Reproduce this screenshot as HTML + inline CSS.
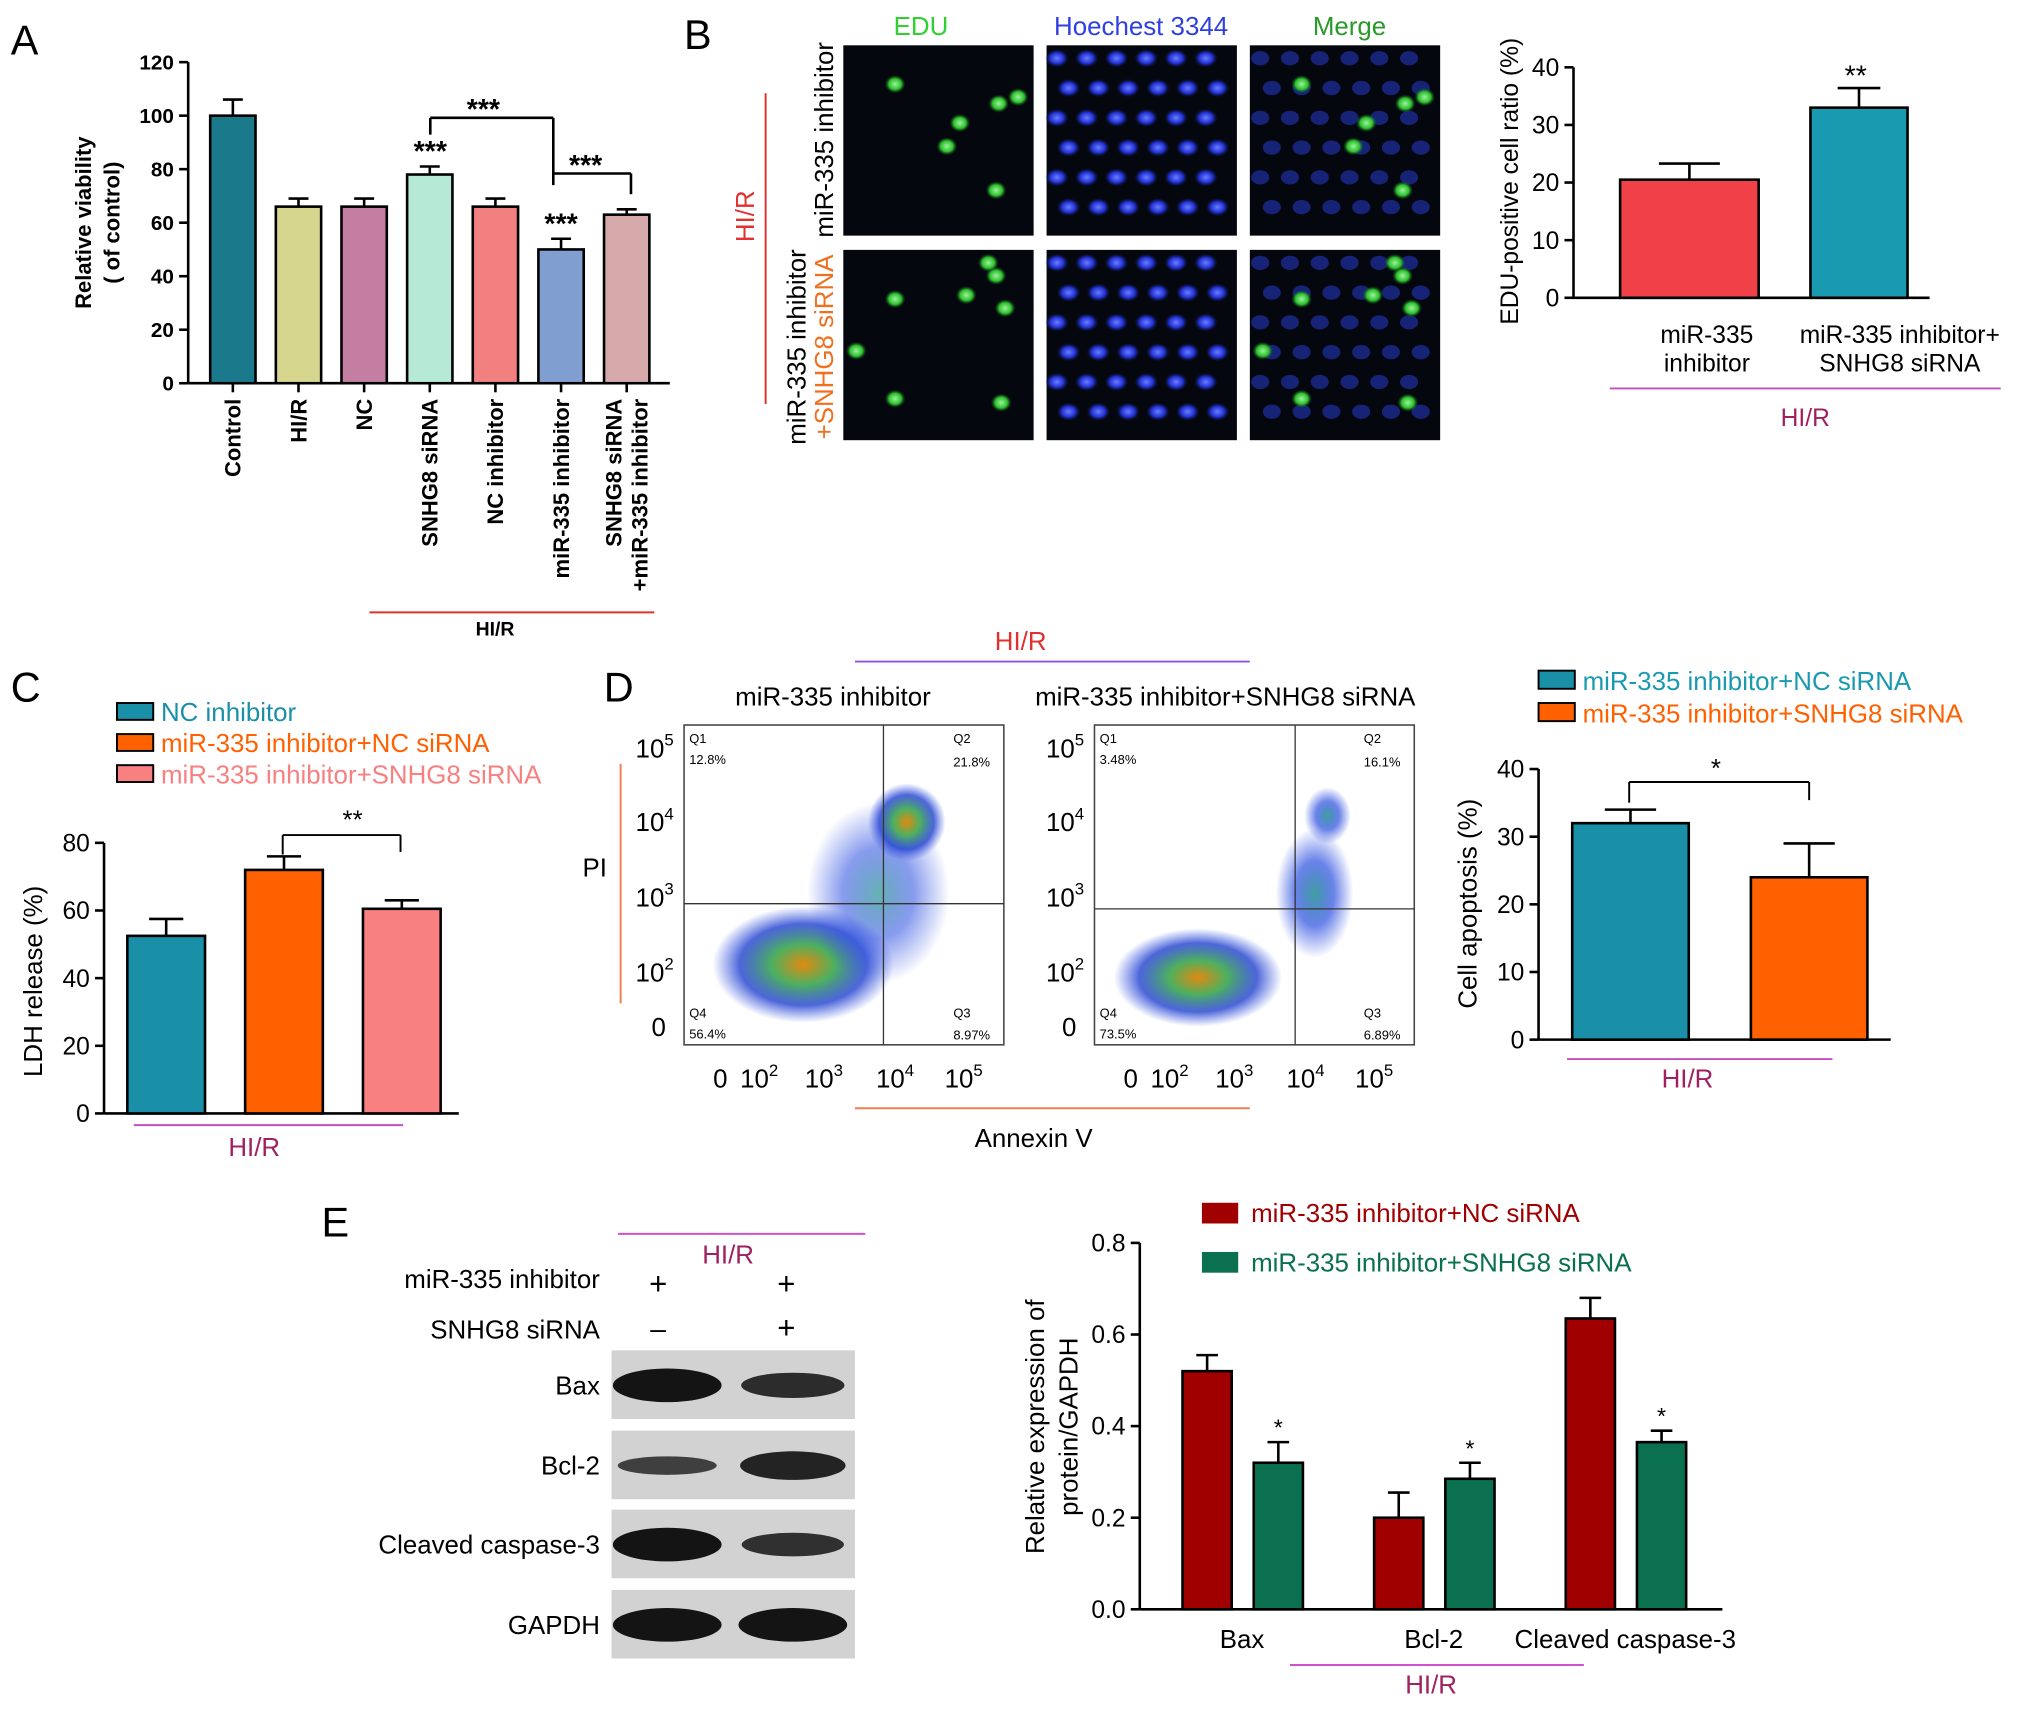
<!DOCTYPE html>
<html><head><meta charset="utf-8"><style>
html,body{margin:0;padding:0;background:#fff}
svg{display:block;font-family:"Liberation Sans",Arial,sans-serif}
</style></head><body>
<svg id="fig" width="2031" height="1709" viewBox="0 0 1568 1320" xmlns="http://www.w3.org/2000/svg">
<defs>
<radialGradient id="hot" cx="50%" cy="50%" r="50%"><stop offset="0" stop-color="#e08a10"/><stop offset="0.35" stop-color="#4cb060"/><stop offset="0.7" stop-color="#2040d0" stop-opacity="0.8"/><stop offset="1" stop-color="#3050e0" stop-opacity="0"/></radialGradient>
<radialGradient id="cool" cx="50%" cy="50%" r="50%"><stop offset="0" stop-color="#40a0a0"/><stop offset="0.5" stop-color="#2a4ee0" stop-opacity="0.7"/><stop offset="1" stop-color="#3050e0" stop-opacity="0"/></radialGradient>
<radialGradient id="gc" cx="50%" cy="50%" r="50%"><stop offset="0" stop-color="#9cf29c"/><stop offset="0.6" stop-color="#2ec02e"/><stop offset="1" stop-color="#106010" stop-opacity="0"/></radialGradient>
<radialGradient id="bc" cx="50%" cy="50%" r="50%"><stop offset="0" stop-color="#6a7cff"/><stop offset="0.6" stop-color="#2030d0"/><stop offset="1" stop-color="#101860" stop-opacity="0"/></radialGradient>
</defs>
<g id="root"></g>
</svg>
<script>
// ---- data ----
const aCats=["Control","HI/R","NC","SNHG8 siRNA","NC inhibitor","miR-335 inhibitor","SNHG8 siRNA|+miR-335 inhibitor"];
const aVals=[100,66,66,78,66,50,63];
const aErr=[6,3,3,3,3,4,2];
const aTicks=[0,20,40,60,80,100,120];
const bCats=["miR-335|inhibitor","miR-335 inhibitor+|SNHG8 siRNA"];
const bVals=[20.5,33];
const bErr=[2.8,3.4];
const bTicks=[0,10,20,30,40];
const cCats=["NC inhibitor","miR-335 inhibitor+NC siRNA","miR-335 inhibitor+SNHG8 siRNA"];
const cVals=[52.5,72,60.5];
const cErr=[5,4,2.5];
const cTicks=[0,20,40,60,80];
const dCats=["miR-335 inhibitor+NC siRNA","miR-335 inhibitor+SNHG8 siRNA"];
const dVals=[32,24];
const dErr=[2,5];
const dTicks=[0,10,20,30,40];
const eGroups=["Bax","Bcl-2","Cleaved caspase-3"];
const eNC=[0.52,0.2,0.635];
const eSN=[0.32,0.285,0.365];
const eNCerr=[0.035,0.055,0.045];
const eSNerr=[0.045,0.035,0.025];
const eTicks=[0,0.2,0.4,0.6,0.8];

const NS="http://www.w3.org/2000/svg";
const root=document.getElementById('root');
function mk(tag,attrs,parent,name,inter){const e=document.createElementNS(NS,tag);for(const k in attrs)e.setAttribute(k,attrs[k]);(parent||root).appendChild(e);


return e;}
function txt(x,y,s,attrs,name){const t=mk('text',Object.assign({x:x,y:y},attrs||{}),null,name||'label');t.textContent=s;return t;}
function line(x1,y1,x2,y2,c,w,name){return mk('line',{x1:x1,y1:y1,x2:x2,y2:y2,stroke:c||'#000','stroke-width':w||2},null,name||'line');}
function rect(x,y,w,h,f,name,extra){return mk('rect',Object.assign({x:x,y:y,width:w,height:h,fill:f},extra||{}),null,name||'rect');}

function yAxis(x,y0,y1,vmax,ticks,fmt,fs,bold){
  const sy=v=>y0-(v/vmax)*(y0-y1);
  line(x,y0,x,y1,'#000',2,'y-axis');
  ticks.forEach(t=>{line(x-7,sy(t),x,sy(t),'#000',2,'y-tick');txt(x-11,sy(t)+fs*0.35,fmt(t),{'font-size':fs,'text-anchor':'end','font-weight':bold?'bold':'normal'},'y-tick-label');});
  return sy;
}
function bar(x,w,v,e,sy,fill,name){
  const y=sy(v),ye=sy(v+e);
  line(x+w/2,ye,x+w/2,y,'#000',2,'error-bar');
  line(x+w/2-w*0.22,ye,x+w/2+w*0.22,ye,'#000',2,'error-cap');
  rect(x,y,w,sy(0)-y,fill,name,{stroke:'#000','stroke-width':2});
}
[['A',8,42],['B',528,38],['C',8,542],['D',466,542],['E',248,955]].forEach(p=>txt(p[1],p[2],p[0],{'font-size':32},'panel-label-'+p[0].toLowerCase()));

// ---- Panel A ----
(function(){
  const sy=yAxis(145,296,48,120,aTicks,t=>t,16,true);
  line(145,296,517,296,'#000',2,'x-axis');
  const cols=["#1a7a8c","#d6d68e","#c47ea2","#b6ead6","#f28080","#809fd0","#d6aaaa"];
  aVals.forEach((v,i)=>{const x=162+i*50.7;bar(x,35,v,aErr[i],sy,cols[i],'bar-a-'+i);
    line(x+17.5,296,x+17.5,303,'#000',2,'x-tick');
    const parts=aCats[i].split('|');
    parts.forEach((p,j)=>{const tx=x+17.5+(j-(parts.length-1)/2)*20+6;txt(tx,308,p,{'font-size':17,'font-weight':'bold','text-anchor':'end',transform:`rotate(-90 ${tx} 308)`},'x-tick-label');});
  });
  txt(70,172,'Relative viability',{'font-size':17,'font-weight':'bold','text-anchor':'middle',transform:'rotate(-90 70 172)'},'y-axis-title');
  txt(92,172,'( of control)',{'font-size':17,'font-weight':'bold','text-anchor':'middle',transform:'rotate(-90 92 172)'},'y-axis-title');
  [[332,sy(83)],[433,sy(56)]].forEach(p=>txt(p[0],p[1],'***',{'font-size':22,'font-weight':'bold','text-anchor':'middle'},'significance'));
  line(332,91,427,91,'#000',2,'bracket');line(332,91,332,104,'#000',2,'bracket');line(427,91,427,143,'#000',2,'bracket');
  txt(373,92,'***',{'font-size':22,'font-weight':'bold','text-anchor':'middle'},'significance');
  line(427,134,487,134,'#000',2,'bracket');line(487,134,487,150,'#000',2,'bracket');
  txt(452,135,'***',{'font-size':22,'font-weight':'bold','text-anchor':'middle'},'significance');
  line(285,473,505,473,'#e03030',1.5,'hir-line');
  txt(382,491,'HI/R',{'font-size':15,'font-weight':'bold','text-anchor':'middle'},'hir-label');
})();

// ---- Panel B images ----
(function(){
  txt(711,27,'EDU',{'font-size':20,fill:'#30d030','text-anchor':'middle'},'col-title');
  txt(881,27,'Hoechest 3344',{'font-size':20,fill:'#3040e0','text-anchor':'middle'},'col-title');
  txt(1042,27,'Merge',{'font-size':20,fill:'#2a9a2a','text-anchor':'middle'},'col-title');
  const cols=[651,808,965],rows=[35,193];
  const green=[[[40,30],[90,60],[120,45],[80,78],[135,40],[118,112]],[[40,38],[95,35],[118,20],[125,45],[10,78],[40,115],[122,118],[112,10]]];
  rows.forEach((ry,ri)=>cols.forEach((cx,ci)=>{
    rect(cx,ry,147,147,'#05070f','micrograph');
    if(ci>0){for(let k=0;k<36;k++){const px=cx+8+(k%6)*23+((Math.floor(k/6))%2)*9,py=ry+10+Math.floor(k/6)*23;
      mk('ellipse',{cx:px,cy:py,rx:ci===1?9:7,ry:ci===1?7:5.5,fill:ci===1?'url(#bc)':'#1c2a90',opacity:ci===1?1:0.8},null,'nucleus');}}
    if(ci!==1){green[ri].forEach(g=>mk('ellipse',{cx:cx+g[0],cy:ry+g[1],rx:8,ry:7,fill:'url(#gc)'},null,'edu-nucleus'));}
  }));
  txt(643,108,'miR-335 inhibitor',{'font-size':20,'text-anchor':'middle',transform:'rotate(-90 643 108)'},'row-label');
  txt(622,268,'miR-335 inhibitor',{'font-size':20,'text-anchor':'middle',transform:'rotate(-90 622 268)'},'row-label');
  txt(643,268,'+SNHG8 siRNA',{'font-size':20,'fill':'#f07020','text-anchor':'middle',transform:'rotate(-90 643 268)'},'row-label');
  line(591,72,591,312,'#e03030',1.5,'hir-line');
  txt(582,167,'HI/R',{'font-size':20,fill:'#e03030','text-anchor':'middle',transform:'rotate(-90 582 167)'},'hir-label');
})();
// ---- Panel B chart ----
(function(){
  const sy=yAxis(1215,230,52,40,bTicks,t=>t,19);
  line(1215,230,1490,230,'#000',2,'x-axis');
  const cols=['#f04048','#1a9ab0'],xs=[1251,1398],ws=[107,75],lx=[1318,1467];
  bVals.forEach((v,i)=>{bar(xs[i],ws[i],v,bErr[i],sy,cols[i],'bar-b-'+i);
    bCats[i].split('|').forEach((p,j)=>txt(lx[i],265+j*22,p,{'font-size':19,'text-anchor':'middle'},'x-tick-label'));});
  txt(1433,66,'**',{'font-size':22,'text-anchor':'middle'},'significance');
  txt(1172,140,'EDU-positive cell ratio (%)',{'font-size':19,'text-anchor':'middle',transform:'rotate(-90 1172 140)'},'y-axis-title');
  line(1243,300,1545,300,'#c050c0',1.5,'hir-line');
  txt(1394,329,'HI/R',{'font-size':19,fill:'#a02060','text-anchor':'middle'},'hir-label');
})();

// ---- Panel C ----
(function(){
  const cols=['#1a90a8','#ff6000','#f88080'],lc=['#1a90a8','#ff6000','#f88080'];
  cCats.forEach((c,i)=>{rect(90,543+i*24,28,13,cols[i],'legend-swatch',{stroke:'#000','stroke-width':1.5});txt(124,557+i*24,c,{'font-size':20,fill:lc[i]},'legend-entry');});
  const sy=yAxis(80,860,651,80,cTicks,t=>t,19);
  line(80,860,354,860,'#000',2,'x-axis');
  const xs=[98,189,280];
  cVals.forEach((v,i)=>bar(xs[i],60,v,cErr[i],sy,cols[i],'bar-c-'+i));
  line(218,645,309,645,'#000',1.5,'bracket');line(218,645,218,660,'#000',1.5,'bracket');line(309,645,309,658,'#000',1.5,'bracket');
  txt(272,640,'**',{'font-size':20,'text-anchor':'middle'},'significance');
  txt(32,758,'LDH release (%)',{'font-size':20,'text-anchor':'middle',transform:'rotate(-90 32 758)'},'y-axis-title');
  line(103,869,311,869,'#c050c0',1.5,'hir-line');
  txt(196,893,'HI/R',{'font-size':20,fill:'#a02060','text-anchor':'middle'},'hir-label');
})();

// ---- Panel D flow ----
(function(){
  line(660,511,965,511,'#9050e0',1.5,'hir-line');
  txt(788,502,'HI/R',{'font-size':20,fill:'#e03030','text-anchor':'middle'},'hir-label');
  txt(643,545,'miR-335 inhibitor',{'font-size':20,'text-anchor':'middle'},'plot-title');
  txt(946,545,'miR-335 inhibitor+SNHG8 siRNA',{'font-size':20,'text-anchor':'middle'},'plot-title');
  const boxes=[[528,560,'12.8%','21.8%','56.4%','8.97%',682,698],[845,560,'3.48%','16.1%','73.5%','6.89%',1000,702]];
  boxes.forEach((b,bi)=>{
    const [x,y]=b;
    rect(x,y,247,247,'#fff','flow-plot',{stroke:'#444','stroke-width':1.2});
    if(bi===0){
      mk('ellipse',{cx:x+92,cy:y+185,rx:70,ry:45,fill:'url(#hot)'},null,'cell-cluster');
      mk('ellipse',{cx:x+150,cy:y+130,rx:55,ry:70,fill:'url(#cool)',opacity:0.8},null,'cell-cluster');
      mk('ellipse',{cx:x+172,cy:y+75,rx:30,ry:30,fill:'url(#hot)'},null,'cell-cluster');
    }else{
      mk('ellipse',{cx:x+80,cy:y+195,rx:65,ry:38,fill:'url(#hot)'},null,'cell-cluster');
      mk('ellipse',{cx:x+170,cy:y+130,rx:30,ry:50,fill:'url(#cool)'},null,'cell-cluster');
      mk('ellipse',{cx:x+180,cy:y+70,rx:18,ry:22,fill:'url(#cool)'},null,'cell-cluster');
    }
    line(b[6],y,b[6],y+247,'#333',1,'gate-line');line(x,b[7],x+247,b[7],'#333',1,'gate-line');
    txt(x+4,y+14,'Q1',{'font-size':10},'quadrant');txt(x+4,y+30,b[2],{'font-size':10},'quadrant-value');
    txt(x+208,y+14,'Q2',{'font-size':10},'quadrant');txt(x+208,y+32,b[3],{'font-size':10},'quadrant-value');
    txt(x+4,y+226,'Q4',{'font-size':10},'quadrant');txt(x+4,y+242,b[4],{'font-size':10},'quadrant-value');
    txt(x+208,y+226,'Q3',{'font-size':10},'quadrant');txt(x+208,y+243,b[5],{'font-size':10},'quadrant-value');
    const ylab=[['10',5,y+25],['10',4,y+82],['10',3,y+140],['10',2,y+198],['0','',y+240]];
    ylab.forEach(l=>{const t=txt(x-14,l[2],l[0],{'font-size':20,'text-anchor':'end'},'y-tick-label');if(l[1]!==''){const s=document.createElementNS(NS,'tspan');s.setAttribute('dy','-9');s.setAttribute('font-size','13');s.textContent=l[1];t.appendChild(s);t.setAttribute('x',x-8);}});
    const xl=[['0','',x+28],['10',2,x+58],['10',3,x+108],['10',4,x+163],['10',5,x+216]];
    xl.forEach(l=>{const t=txt(l[2],y+280,l[0],{'font-size':20,'text-anchor':'middle'},'x-tick-label');if(l[1]!==''){const s=document.createElementNS(NS,'tspan');s.setAttribute('dy','-9');s.setAttribute('font-size','13');s.textContent=l[1];t.appendChild(s);}});
  });
  line(479,590,479,775,'#f08050',1.5,'pi-line');
  txt(459,677,'PI',{'font-size':20,'text-anchor':'middle'},'y-axis-title');
  line(660,856,965,856,'#f08050',1.5,'annexin-line');
  txt(798,886,'Annexin V',{'font-size':20,'text-anchor':'middle'},'x-axis-title');
})();
// ---- Panel D chart ----
(function(){
  const cols=['#1a90a8','#ff6000'],lc=['#1a9ab0','#ff6000'];
  dCats.forEach((c,i)=>{rect(1188,518+i*25,28,14,cols[i],'legend-swatch',{stroke:'#000','stroke-width':1.5});txt(1222,533+i*25,c,{'font-size':20,fill:lc[i]},'legend-entry');});
  const sy=yAxis(1188,803,594,40,dTicks,t=>t,19);
  line(1188,803,1460,803,'#000',2,'x-axis');
  const xs=[1214,1352];
  dVals.forEach((v,i)=>bar(xs[i],90,v,dErr[i],sy,cols[i],'bar-d-'+i));
  line(1258,604,1397,604,'#000',1.5,'bracket');line(1258,604,1258,620,'#000',1.5,'bracket');line(1397,604,1397,618,'#000',1.5,'bracket');
  txt(1325,600,'*',{'font-size':20,'text-anchor':'middle'},'significance');
  txt(1140,698,'Cell apoptosis (%)',{'font-size':20,'text-anchor':'middle',transform:'rotate(-90 1140 698)'},'y-axis-title');
  line(1210,818,1415,818,'#c050c0',1.5,'hir-line');
  txt(1303,840,'HI/R',{'font-size':20,fill:'#a02060','text-anchor':'middle'},'hir-label');
})();

// ---- Panel E blot ----
(function(){
  line(477,953,668,953,'#d050d0',1.5,'hir-line');
  txt(562,976,'HI/R',{'font-size':20,fill:'#a02060','text-anchor':'middle'},'hir-label');
  txt(463,995,'miR-335 inhibitor',{'font-size':20,'text-anchor':'end'},'row-label');
  txt(463,1034,'SNHG8 siRNA',{'font-size':20,'text-anchor':'end'},'row-label');
  txt(508,1000,'+',{'font-size':24,'text-anchor':'middle'},'sign');txt(607,1000,'+',{'font-size':24,'text-anchor':'middle'},'sign');
  txt(508,1034,'–',{'font-size':22,'text-anchor':'middle'},'sign');txt(607,1034,'+',{'font-size':24,'text-anchor':'middle'},'sign');
  const rows=[['Bax',1043,[1,0.75]],['Bcl-2',1105,[0.55,0.85]],['Cleaved caspase-3',1166,[1,0.7]],['GAPDH',1228,[1,1]]];
  rows.forEach(r=>{
    rect(472,r[1],188,53,'#d2d2d2','blot-strip');
    r[2].forEach((s,i)=>mk('ellipse',{cx:i?612:515,cy:r[1]+27,rx:42*(0.8+0.2*s),ry:13*s,fill:'#141414',opacity:0.5+0.5*s},null,'blot-band'));
    txt(463,r[1]+34,r[0],{'font-size':20,'text-anchor':'end'},'row-label');
  });
})();
// ---- Panel E chart ----
(function(){
  rect(928,929,28,16,'#a00000','legend-swatch');txt(966,944,'miR-335 inhibitor+NC siRNA',{'font-size':20,fill:'#a00000'},'legend-entry');
  rect(928,967,28,16,'#0a7050','legend-swatch');txt(966,982,'miR-335 inhibitor+SNHG8 siRNA',{'font-size':20,fill:'#0a7050'},'legend-entry');
  const sy=yAxis(880,1243,960,0.8,eTicks,t=>t.toFixed(1),19);
  line(880,1243,1330,1243,'#000',2,'x-axis');
  const gx=[913,1061,1209];
  eGroups.forEach((g,i)=>{
    bar(gx[i],38,eNC[i],eNCerr[i],sy,'#a00000','bar-e-nc-'+i);
    bar(gx[i]+55,38,eSN[i],eSNerr[i],sy,'#0a7050','bar-e-sn-'+i);
    txt(gx[i]+74,sy(eSN[i]+eSNerr[i])-5,'*',{'font-size':18,'text-anchor':'middle'},'significance');
    txt(gx[i]+46,1273,g,{'font-size':20,'text-anchor':'middle'},'x-tick-label');
  });
  txt(806,1102,'Relative expression of',{'font-size':20,'text-anchor':'middle',transform:'rotate(-90 806 1102)'},'y-axis-title');
  txt(832,1102,'protein/GAPDH',{'font-size':20,'text-anchor':'middle',transform:'rotate(-90 832 1102)'},'y-axis-title');
  line(996,1286,1223,1286,'#d050d0',1.5,'hir-line');
  txt(1105,1308,'HI/R',{'font-size':20,fill:'#a02060','text-anchor':'middle'},'hir-label');
})();
</script>
</body></html>
